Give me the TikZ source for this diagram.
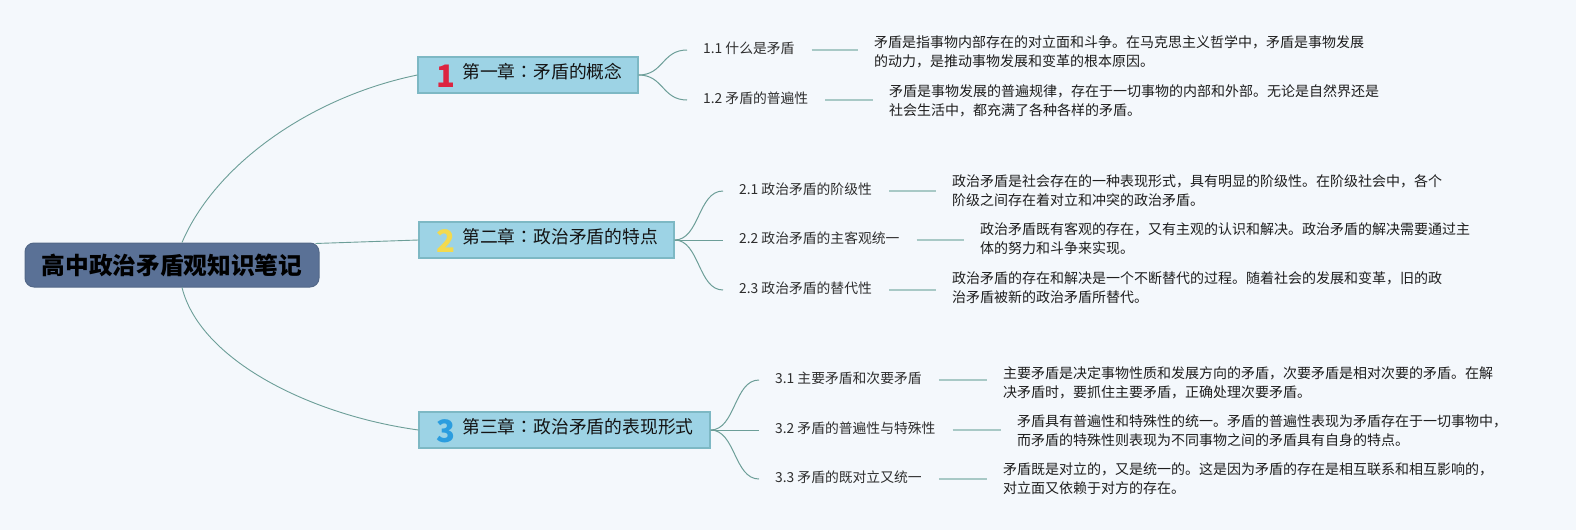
\documentclass[tikz,border=0pt]{standalone}
\usepackage{fontspec}
\setmainfont{Noto Sans CJK SC}
\newfontfamily\tcfont{Noto Sans CJK TC}
\definecolor{bgc}{HTML}{F4F8FC}
\definecolor{rootfill}{HTML}{5A7196}
\definecolor{rootline}{HTML}{536888}
\definecolor{chapfill}{HTML}{9DD3E5}
\definecolor{chapline}{HTML}{7DB8C4}
\definecolor{connc}{HTML}{6C9E98}
\definecolor{stubc}{HTML}{A8C9C6}
\definecolor{numred}{HTML}{DC2440}
\definecolor{numyel}{HTML}{F3DA4E}
\definecolor{numblue}{HTML}{2B9DDF}
\definecolor{labc}{HTML}{2E2E2E}
\definecolor{descc}{HTML}{1E1E1E}
\newcommand\mystrut{\rule[-0.12em]{0pt}{1em}}
\newcommand\ccolon{{\tcfont ：}}
\begin{document}
\begin{tikzpicture}[x=1pt,y=-1pt,
  rootbox/.style={draw=rootline, fill=rootfill, line width=1pt, rounded corners=9pt,
    minimum width=294pt, minimum height=44pt, inner sep=0pt,
    font=\fontsize{23.7}{28}\selectfont\bfseries, text=black},
  chapbox/.style={draw=chapline, fill=chapfill, line width=1.2pt, minimum height=36pt, inner sep=0pt},
  chaptext/.style={anchor=west, inner sep=0pt, text height=0.88em, text depth=0.12em,
    font=\fontsize{17.8}{20}\selectfont, text=black!92},
  num/.style={anchor=base, inner sep=0pt, font=\fontsize{31}{31}\selectfont\bfseries},
  lab/.style={anchor=west, inner sep=0pt, text height=0.88em, text depth=0.12em,
    font=\fontsize{13.8}{16}\selectfont, text=labc},
  desc/.style={anchor=west, inner sep=0pt, align=left,
    font=\fontsize{14}{19.3}\selectfont, text=descc},
  conn/.style={draw=connc, line width=0.9pt},
  sub/.style={draw=connc, line width=1pt},
  stub/.style={draw=stubc, line width=2pt, shorten <=17pt, shorten >=16pt}
]
\fill[bgc] (0,0) rectangle (1576,530);
\useasboundingbox (0,0) rectangle (1576,530);

% root
\node[rootbox] (root) at (172,265) {高中政治矛盾观知识笔记};

% chapters
\node[chapbox, minimum width=220pt] (ch1) at (528,75) {};
\node[chapbox, minimum width=255pt] (ch2) at (546.5,240) {};
\node[chapbox, minimum width=291pt] (ch3) at (564.5,430) {};
\node[num, text=numred] (n1) at (446,87) {1};
\node[num, text=numyel] (n2) at (446,252) {2};
\node[num, text=numblue] (n3) at (446,442) {3};
\node[chaptext] (t1) at (462,75) {第一章\ccolon 矛盾的概念};
\node[chaptext] (t2) at (462,240) {第二章\ccolon 政治矛盾的特点};
\node[chaptext] (t3) at (462,430) {第三章\ccolon 政治矛盾的表现形式};

% root connectors
\draw[conn] ([xshift=10pt]root.north) .. controls (215,165) and (310,97) .. (ch1.west);
\draw[conn] ([xshift=-4pt,yshift=-1pt]root.north east) -- (ch2.west);
\draw[conn] ([xshift=10pt]root.south) .. controls (200,360) and (310,415) .. (ch3.west);

% sub labels
\node[lab] (l11) at (703,50) {1.1 什么是矛盾};
\node[lab] (l12) at (703,100) {1.2 矛盾的普遍性};
\node[lab] (l21) at (739,191) {2.1 政治矛盾的阶级性};
\node[lab] (l22) at (739,240) {2.2 政治矛盾的主客观统一};
\node[lab] (l23) at (739,290) {2.3 政治矛盾的替代性};
\node[lab] (l31) at (775,380) {3.1 主要矛盾和次要矛盾};
\node[lab] (l32) at (775,430) {3.2 矛盾的普遍性与特殊性};
\node[lab] (l33) at (775,479) {3.3 矛盾的既对立又统一};

% descriptions
\node[desc] (d11) at (874,52) {\mystrut{}矛盾是指事物内部存在的对立面和斗争。在马克思主义哲学中，矛盾是事物发展\\\mystrut{}的动力，是推动事物发展和变革的根本原因。};
\node[desc] (d12) at (889,100.5) {\mystrut{}矛盾是事物发展的普遍规律，存在于一切事物的内部和外部。无论是自然界还是\\\mystrut{}社会生活中，都充满了各种各样的矛盾。};
\node[desc] (d21) at (952,191) {\mystrut{}政治矛盾是社会存在的一种表现形式，具有明显的阶级性。在阶级社会中，各个\\\mystrut{}阶级之间存在着对立和冲突的政治矛盾。};
\node[desc] (d22) at (980,239) {\mystrut{}政治矛盾既有客观的存在，又有主观的认识和解决。政治矛盾的解决需要通过主\\\mystrut{}体的努力和斗争来实现。};
\node[desc] (d23) at (952,287.5) {\mystrut{}政治矛盾的存在和解决是一个不断替代的过程。随着社会的发展和变革，旧的政\\\mystrut{}治矛盾被新的政治矛盾所替代。};
\node[desc] (d31) at (1003,383) {\mystrut{}主要矛盾是决定事物性质和发展方向的矛盾，次要矛盾是相对次要的矛盾。在解\\\mystrut{}决矛盾时，要抓住主要矛盾，正确处理次要矛盾。};
\node[desc] (d32) at (1017,430.5) {\mystrut{}矛盾具有普遍性和特殊性的统一。矛盾的普遍性表现为矛盾存在于一切事物中，\\\mystrut{}而矛盾的特殊性则表现为不同事物之间的矛盾具有自身的特点。};
\node[desc] (d33) at (1003,478.5) {\mystrut{}矛盾既是对立的，又是统一的。这是因为矛盾的存在是相互联系和相互影响的，\\\mystrut{}对立面又依赖于对方的存在。};

% chapter -> sub curves
\foreach \c/\l in {ch1/l11, ch1/l12, ch2/l21, ch2/l22, ch2/l23, ch3/l31, ch3/l32, ch3/l33}{
  \draw[sub] (\c.east) .. controls +(25,0) and +(-25,0) .. ([xshift=-16pt]\l.west);
}

% stubs label -> description
\foreach \l/\d in {l11/d11, l12/d12, l21/d21, l22/d22, l23/d23, l31/d31, l32/d32, l33/d33}{
  \draw[stub] (\l.east) -- (\l.east -| \d.west);
}
\end{tikzpicture}
\end{document}
